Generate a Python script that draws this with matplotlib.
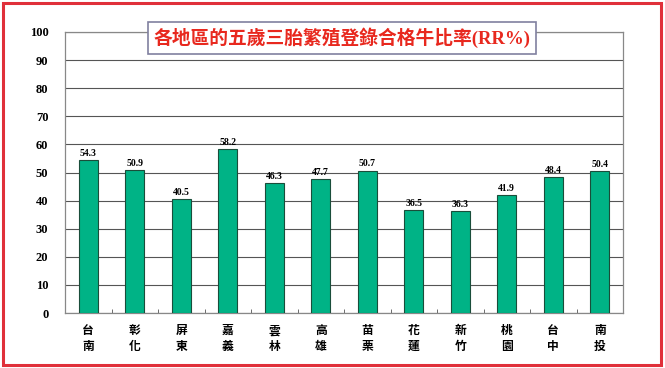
import numpy as np
import matplotlib.pyplot as plt
from matplotlib.patches import Rectangle

regions = ['台南', '彰化', '屏東', '嘉義', '雲林', '高雄', '苗栗', '花蓮', '新竹', '桃園', '台中', '南投']
rr_values = [54.3, 50.9, 40.5, 58.2, 46.3, 47.7, 50.7, 36.5, 36.3, 41.9, 48.4, 50.4]
y_ticks = list(range(0, 101, 10))
title = '各地區的五歲三胎繁殖登錄合格牛比率(RR%)'

cjk = ['Noto Sans CJK TC', 'DejaVu Sans']
serif = ['Liberation Serif', 'DejaVu Serif']
mixed = ['Liberation Serif', 'Noto Sans CJK TC']

fig = plt.figure(figsize=(6.65, 3.68), dpi=100)
fig.patch.set_facecolor('white')

# red outer frame
fig.patches.append(Rectangle((0.004, 0.008), 0.99, 0.985, transform=fig.transFigure,
                             fill=False, edgecolor='#e0303a', linewidth=2.2))

ax = fig.add_axes([65 / 665, 1 - 313 / 368, 558 / 665, 281 / 368])
x = np.arange(len(regions))
ax.bar(x, rr_values, width=0.41, color='#00b386', edgecolor='#1a4d3a', linewidth=0.8, zorder=3)

for xi, v in zip(x, rr_values):
    ax.text(xi, v + 0.8, '%.1f' % v, ha='center', va='bottom', fontsize=7,
            fontweight='bold', family=serif, zorder=4)

ax.set_xlim(-0.5, len(regions) - 0.5)
ax.set_ylim(0, 100)
ax.set_yticks(y_ticks)
ax.set_yticklabels([str(t) for t in y_ticks], family=serif, fontweight='bold', fontsize=9)
ax.yaxis.grid(True, color='#555555', linewidth=0.8, zorder=0)
ax.tick_params(axis='y', length=0, pad=12)

ax.set_xticks(x)
ax.set_xticklabels(['\n'.join(r) for r in regions], family=cjk, fontsize=8.5,
                   fontweight='bold', linespacing=1.3)
ax.set_xticks(np.arange(-0.5, len(regions)), minor=True)
ax.tick_params(axis='x', which='major', length=0, pad=8)
ax.tick_params(axis='x', which='minor', direction='in', length=3, color='#555555')

for s in ax.spines.values():
    s.set_color('#888888')
    s.set_linewidth(0.9)

fig.text(342 / 665, 1 - 38 / 368, title, ha='center', va='center', fontsize=13.5,
         color='#e8281e', fontweight='bold', family=mixed,
         bbox=dict(boxstyle='square,pad=0.3', facecolor='white', edgecolor='#8080a0', linewidth=1.2))

fig.savefig('out.png', dpi=100)
